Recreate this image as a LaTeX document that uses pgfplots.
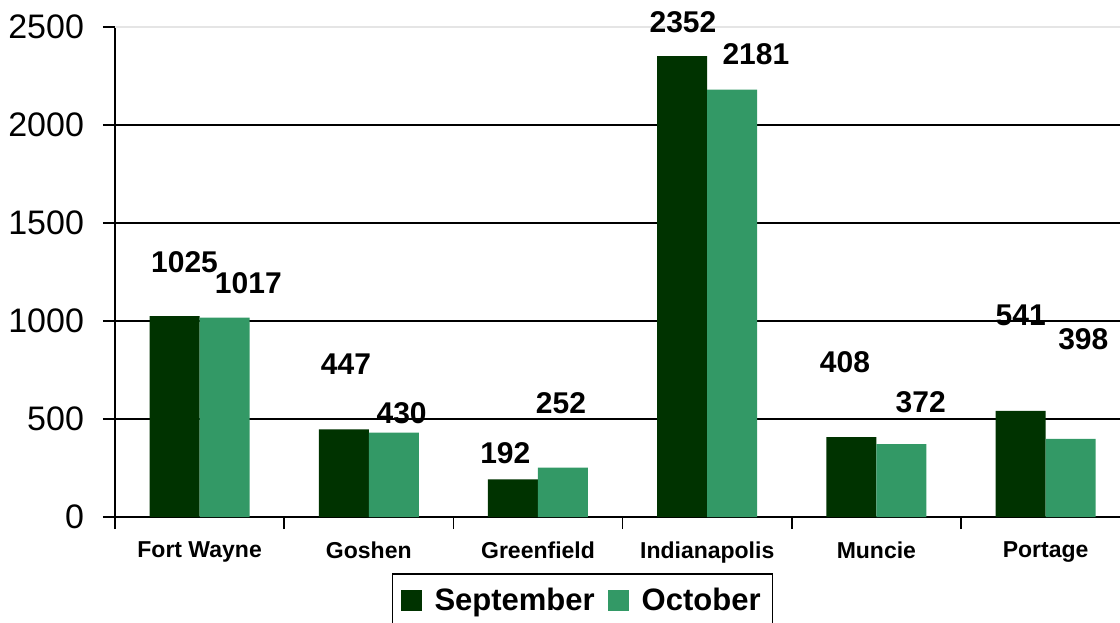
\documentclass[border=0pt]{standalone}
\usepackage{pgfplots}
\pgfplotsset{compat=1.18}
\usepackage{fontspec}
\setmainfont{Liberation Sans}
\definecolor{sep}{HTML}{003300}
\definecolor{oct}{HTML}{339966}
\begin{document}
\begin{tikzpicture}
\begin{axis}[
 name=ax,
 scale only axis, width=507.6pt, height=245pt,
 xmin=-0.5, xmax=5.5, ymin=0, ymax=2500,
 axis x line*=bottom, axis y line*=left,
 axis line style={black, line width=0.8pt},
 ybar=0pt, bar width=25pt,
 xtick={-0.5,0.5,1.5,2.5,3.5,4.5,5.5}, x tick label as interval,
 xticklabels={Fort Wayne,Goshen,Greenfield,Indianapolis,Muncie,Portage},
 ytick={0,500,1000,1500,2000},
 extra y ticks={2500}, extra y tick style={grid style={gray!20, line width=0.6pt}},
 ymajorgrids, grid style={black, line width=0.7pt},
 tick align=outside, major tick length=6pt,
 tick style={black, line width=0.8pt},
 /pgf/number format/1000 sep={},
 /pgf/number format/assume math mode=true,
 yticklabel style={font=\fontsize{17}{17}\selectfont, xshift=-6pt},
 xticklabel style={font=\bfseries\fontsize{11.5}{11.5}\selectfont, yshift=-3pt},
 legend columns=2,
 legend style={at={(0,0)}, anchor=north west, xshift=138.35pt, yshift=-28pt,
   draw=black, line width=0.8pt, font=\bfseries\fontsize{15.5}{15.5}\selectfont,
   /tikz/every odd column/.append style={column sep=4.5pt},
   /tikz/every even column/.append style={column sep=4.5pt},
   inner xsep=4pt, inner ysep=5pt},
 clip=false,
]
\addplot[fill=sep, draw=none, legend image code/.code={\fill[sep] (0pt,-5.25pt) rectangle (10.5pt,5.25pt);}]
 coordinates {(0,1025) (1,447) (2,192) (3,2352) (4,408) (5,541)};
\addplot[fill=oct, draw=none, legend image code/.code={\fill[oct] (0pt,-5.25pt) rectangle (10.5pt,5.25pt);}]
 coordinates {(0,1017) (1,430) (2,252) (3,2181) (4,372) (5,398)};
\legend{September,October}
\tikzset{lab/.style={font=\bfseries\fontsize{15}{15}\selectfont, anchor=center, inner sep=0pt}}
\node[lab] at (axis cs:-0.089,1298) {1025};
\node[lab] at (axis cs:0.288,1194) {1017};
\node[lab] at (axis cs:0.865,781) {447};
\node[lab] at (axis cs:1.194,531) {430};
\node[lab] at (axis cs:1.807,325) {192};
\node[lab] at (axis cs:2.136,580) {252};
\node[lab] at (axis cs:2.857,2527) {2352};
\node[lab] at (axis cs:3.288,2360) {2181};
\node[lab] at (axis cs:3.814,788) {408};
\node[lab] at (axis cs:4.262,584) {372};
\node[lab] at (axis cs:4.853,1031) {541};
\node[lab] at (axis cs:5.223,905) {398};
\end{axis}
\pgfresetboundingbox
\path[use as bounding box] (ax.south west) +(-57.5pt,-52.5pt) rectangle +(502.5pt,258.5pt);
\end{tikzpicture}
\end{document}
